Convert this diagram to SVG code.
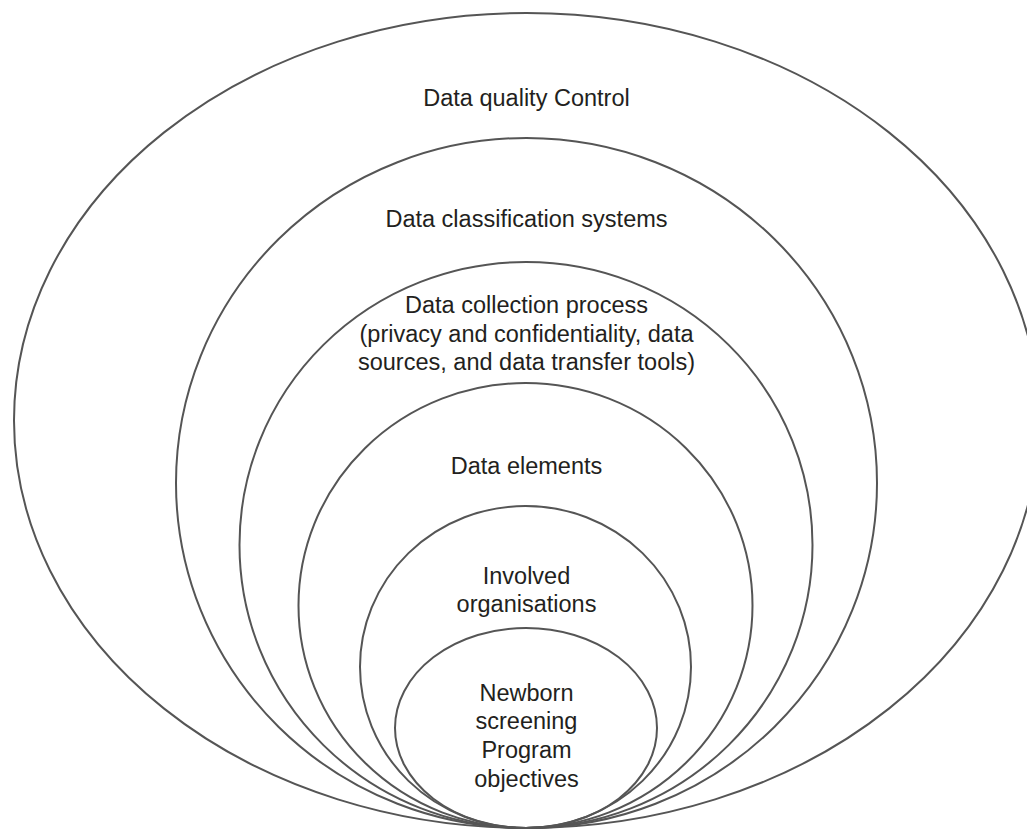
<svg xmlns="http://www.w3.org/2000/svg" width="1027" height="829" viewBox="0 0 1027 829">
<style>
.ring{fill:none;stroke:#555555;stroke-width:2}
.lbl{font-family:"Liberation Sans",Arial,sans-serif;font-size:23.5px;fill:#231f20;text-anchor:middle}
</style>
<rect width="1027" height="829" fill="#ffffff"/>
<g id="data-quality-control">
<ellipse class="ring" cx="526.5" cy="420.5" rx="512.5" ry="407.5"/>
<text class="lbl" x="526.5" y="106">Data quality Control</text>
</g>
<g id="data-classification-systems">
<ellipse class="ring" cx="526.5" cy="483" rx="350.5" ry="345"/>
<text class="lbl" x="526.5" y="227">Data classification systems</text>
</g>
<g id="data-collection-process">
<ellipse class="ring" cx="526" cy="545" rx="286.5" ry="283"/>
<text class="lbl" x="526.5" y="313">Data collection process</text>
<text class="lbl" x="526.5" y="341.5">(privacy and confidentiality, data</text>
<text class="lbl" x="526.5" y="370">sources, and data transfer tools)</text>
</g>
<g id="data-elements">
<ellipse class="ring" cx="525.5" cy="605.5" rx="227" ry="222.5"/>
<text class="lbl" x="526.5" y="474">Data elements</text>
</g>
<g id="involved-organisations">
<ellipse class="ring" cx="525.5" cy="667" rx="165.5" ry="161"/>
<text class="lbl" x="526.5" y="584">Involved</text>
<text class="lbl" x="526.5" y="612">organisations</text>
</g>
<g id="newborn-screening-objectives">
<ellipse class="ring" cx="526" cy="728" rx="131" ry="100"/>
<text class="lbl" x="526.5" y="700.5">Newborn</text>
<text class="lbl" x="526.5" y="729">screening</text>
<text class="lbl" x="526.5" y="758">Program</text>
<text class="lbl" x="526.5" y="786.5">objectives</text>
</g>
</svg>
